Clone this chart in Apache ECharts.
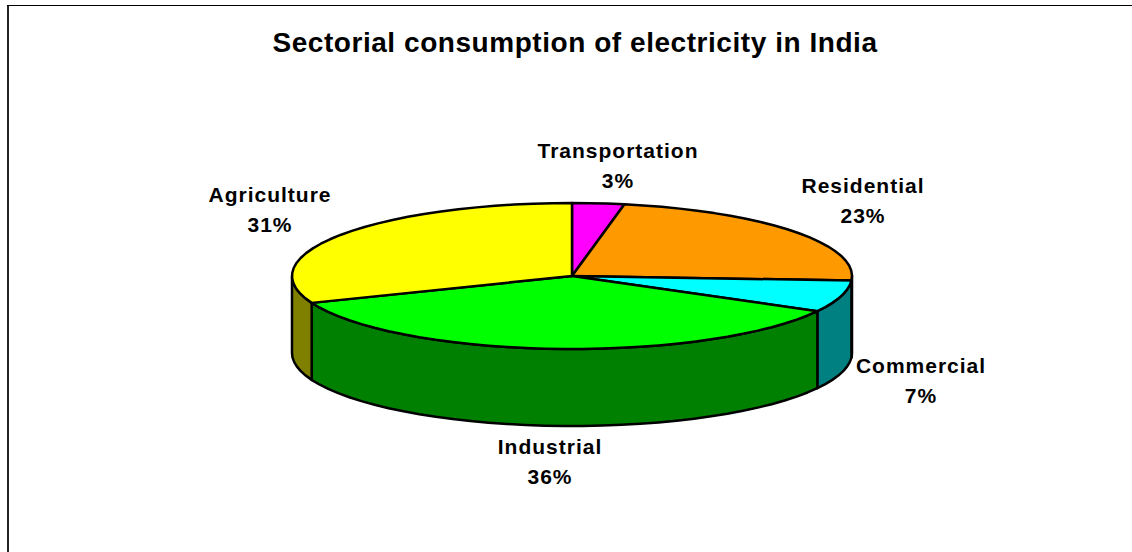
<!DOCTYPE html>
<html>
<head>
<meta charset="utf-8">
<style>
html,body{margin:0;padding:0;background:#fff}
#c{width:1132px;height:552px}
#c text{letter-spacing:1px}
#c text[style*="28px"]{letter-spacing:.55px}
</style>
<script src="https://cdn.jsdelivr.net/npm/echarts@6/dist/echarts.min.js"></script>
</head>
<body>
<div id="c"></div>
<script>
const titleText = 'Sectorial consumption of electricity in India';
const categories = ['Transportation', 'Residential', 'Commercial', 'Industrial', 'Agriculture'];
const shares = [3, 23, 7, 36, 31];
const topColors = ['#ff00ff', '#ff9900', '#00ffff', '#00ff00', '#ffff00'];
const wallColors = ['#800080', '#804c00', '#008080', '#008000', '#808000'];
const labelCentres = [[618, 150], [863, 185], [921, 365], [550, 446], [270, 194]];

const CX = 572, CY = 276, RX = 280, RY = 73, DEPTH = 77, LINE_GAP = 30;
const total = shares.reduce((a, b) => a + b, 0);
const starts = [];
shares.reduce((acc, v, i) => { starts[i] = acc; return acc + v; }, 0);

function pt(deg, dy) {
  const r = deg * Math.PI / 180;
  return [CX + RX * Math.sin(r), CY - RY * Math.cos(r) + (dy || 0)];
}
function arc(a0, a1, dy) {
  const n = Math.max(2, Math.ceil(Math.abs(a1 - a0) / 4));
  const out = [];
  for (let i = 0; i <= n; i++) out.push(pt(a0 + (a1 - a0) * i / n, dy));
  return out;
}
function angles(i, val) {
  const a0 = starts[i] / total * 360;
  return [a0, a0 + val / total * 360];
}
const stroke = { stroke: '#000', lineWidth: 2.5, lineJoin: 'round' };

function renderWall(params, api) {
  const i = params.dataIndex;
  const [a0, a1] = angles(i, api.value(1));
  const s = Math.max(a0, 90), e = Math.min(a1, 270);
  if (e <= s) return { type: 'group', children: [] };
  const points = arc(s, e, 0).concat(arc(e, s, DEPTH));
  return { type: 'polygon', shape: { points }, style: Object.assign({ fill: wallColors[i] }, stroke) };
}
function renderTop(params, api) {
  const i = params.dataIndex;
  const [a0, a1] = angles(i, api.value(1));
  const points = [[CX, CY]].concat(arc(a0, a1, 0));
  return { type: 'polygon', shape: { points }, style: Object.assign({ fill: topColors[i] }, stroke) };
}
function renderLabel(params, api) {
  const i = params.dataIndex;
  const [x, y] = labelCentres[i];
  const font = 'bold 21px "Liberation Sans", Arial, sans-serif';
  const t = (text, yy) => ({
    type: 'text',
    style: { x, y: yy, text, font, fill: '#000', align: 'center', verticalAlign: 'middle' }
  });
  return { type: 'group', children: [t(categories[i], y), t(api.value(1) + '%', y + LINE_GAP)] };
}
const seriesData = categories.map((c, i) => [c, shares[i]]);
const makeSeries = (name, fn, z) => ({
  type: 'custom', name, coordinateSystem: 'none', renderItem: fn, data: seriesData, z, silent: true,
  animation: false, clip: false
});

const chart = echarts.init(document.getElementById('c'), null, { renderer: 'svg' });
chart.setOption({
  animation: false,
  backgroundColor: '#fff',
  title: {
    text: titleText, left: 570, top: 23, textAlign: 'center',
    textStyle: { fontFamily: '"Liberation Sans", Arial, sans-serif', fontWeight: 'bold', fontSize: 28, color: '#000' }
  },
  graphic: [
    { type: 'polyline', silent: true, shape: { points: [[8, 552], [8, 5]] },
      style: { stroke: '#222', lineWidth: 2, fill: 'none' } },
    { type: 'polyline', silent: true, shape: { points: [[7, 5.5], [1132, 5.5]] },
      style: { stroke: '#000', lineWidth: 1.2, fill: 'none' } }
  ],
  series: [
    makeSeries('walls', renderWall, 1),
    makeSeries('tops', renderTop, 2),
    makeSeries('labels', renderLabel, 3)
  ]
});
</script>
</body>
</html>
